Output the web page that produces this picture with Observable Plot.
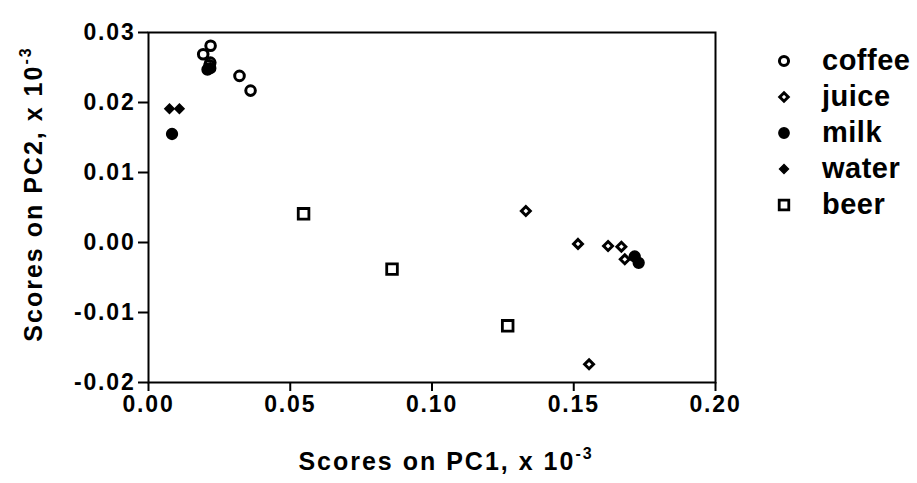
<!DOCTYPE html>
<html><head><meta charset="utf-8">
<script src="https://cdn.jsdelivr.net/npm/d3@7"></script>
<script src="https://cdn.jsdelivr.net/npm/@observablehq/plot@0.6"></script>
<style>body{margin:0;background:#fff} svg{display:block}</style>
</head><body><div id="chart"></div>
<script>
// ---- data ----
const categories = ["coffee", "juice", "milk", "water", "beer"];
const coffeeX = [0.0219, 0.0193, 0.0218, 0.0215, 0.0321, 0.0360];
const coffeeY = [0.0281, 0.0269, 0.0257, 0.0253, 0.0238, 0.0217];
const juiceX = [0.1331, 0.1515, 0.1621, 0.1668, 0.1680, 0.1554];
const juiceY = [0.0045, -0.0002, -0.0005, -0.0006, -0.0024, -0.0174];
const milkX = [0.0083, 0.0208, 0.0218, 0.1715, 0.1729];
const milkY = [0.0155, 0.0247, 0.0249, -0.0020, -0.0029];
const waterX = [0.0074, 0.0109];
const waterY = [0.0191, 0.0191];
const beerX = [0.0547, 0.0859, 0.1267];
const beerY = [0.0041, -0.0038, -0.0119];
const xTicks = [0, 0.05, 0.10, 0.15, 0.20];
const yTicks = [-0.02, -0.01, 0.00, 0.01, 0.02, 0.03];
const xTitle = "Scores on PC1, x 10";
const yTitle = "Scores on PC2, x 10";
const exponent = "-3";

// ---- styles ----
const markStyle = {
  coffee: {symbol: "circle", fill: "none", stroke: "black", r: 4.8, strokeWidth: 3},
  juice: {symbol: "diamond2", fill: "none", stroke: "black", r: 4, strokeWidth: 3},
  milk: {symbol: "circle", fill: "black", stroke: "black", r: 5.4, strokeWidth: 1.5},
  water: {symbol: "diamond2", fill: "black", stroke: "black", r: 4.2, strokeWidth: 1.5},
  beer: {symbol: "square", fill: "none", stroke: "black", r: 6, strokeWidth: 2.8}
};
const seriesX = {coffee: coffeeX, juice: juiceX, milk: milkX, water: waterX, beer: beerX};
const seriesY = {coffee: coffeeY, juice: juiceY, milk: milkY, water: waterY, beer: beerY};
const rows = categories.flatMap(c => seriesX[c].map((x, i) => ({cat: c, x, y: seriesY[c][i]})));

const locale = d3.formatLocale({decimal: ".", thousands: ",", grouping: [3], currency: ["$", ""], minus: "-"});
const fmt = locale.format(".2f");
const W = 917, H = 483;
const plot = Plot.plot({
  width: W, height: H,
  marginLeft: 148, marginRight: 202, marginTop: 32, marginBottom: 101,
  x: {domain: [0, 0.2]},
  y: {domain: [-0.02, 0.03]},
  style: {fontFamily: "'Liberation Sans', Arial, sans-serif", fontWeight: "bold", fontSize: "23px", background: "white", color: "black"},
  marks: [
    Plot.frame({stroke: "black", strokeWidth: 2}),
    Plot.axisX({ticks: xTicks, tickFormat: fmt, tickSize: 9, tickPadding: 4, strokeWidth: 2, label: null}),
    Plot.axisY({ticks: yTicks, tickFormat: fmt, tickSize: 10, tickPadding: 3, strokeWidth: 2, label: null}),
    ...categories.map(c => {
      const s = markStyle[c];
      return Plot.dot(rows.filter(d => d.cat === c), {
        x: "x", y: "y", symbol: s.symbol, r: s.r, fill: s.fill, stroke: s.stroke, strokeWidth: s.strokeWidth
      });
    })
  ]
});
document.getElementById("chart").append(plot);

const svg = d3.select(plot);
svg.selectAll("g[aria-label$='tick label'] text").attr("letter-spacing", "1.8px");

// axis titles with superscript
const font = "'Liberation Sans', Arial, sans-serif";
const xt = svg.append("text").attr("x", 446).attr("y", 470).attr("text-anchor", "middle")
  .attr("font-family", font).attr("font-weight", "bold").attr("font-size", 25).attr("letter-spacing", "2px")
  .attr("fill", "black");
xt.append("tspan").text(xTitle);
xt.append("tspan").attr("dy", -11).attr("font-size", 16).text(exponent);

const yt = svg.append("text").attr("transform", "translate(42,194) rotate(-90)").attr("text-anchor", "middle")
  .attr("font-family", font).attr("font-weight", "bold").attr("font-size", 25).attr("letter-spacing", "2px")
  .attr("fill", "black");
yt.append("tspan").text(yTitle);
yt.append("tspan").attr("dy", -11).attr("font-size", 16).text(exponent);

// legend
const symType = {circle: d3.symbolCircle, diamond2: d3.symbolDiamond2, square: d3.symbolSquare};
const lg = svg.append("g").attr("text-anchor", "start");
const legendScale = {circle: 0.95, diamond2: 0.95, square: 0.9};
categories.forEach((c, i) => {
  const s = markStyle[c];
  const y = 61 + i * 36;
  const rr = s.r * legendScale[s.symbol];
  lg.append("path")
    .attr("d", d3.symbol(symType[s.symbol], Math.PI * rr * rr)())
    .attr("transform", `translate(784,${y})`)
    .attr("fill", s.fill).attr("stroke", s.stroke).attr("stroke-width", s.strokeWidth);
  lg.append("text").attr("x", 822).attr("y", y + 9).attr("text-anchor", "start")
    .attr("font-family", font).attr("font-weight", "bold").attr("font-size", 29).attr("letter-spacing", "0.5px")
    .attr("fill", "black").text(c);
});
</script>
</body></html>
